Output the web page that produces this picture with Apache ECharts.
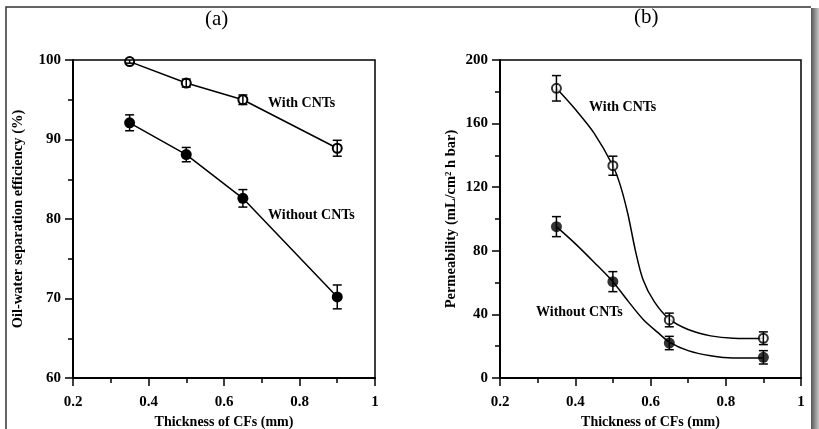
<!DOCTYPE html>
<html>
<head>
<meta charset="utf-8">
<script src="https://cdn.jsdelivr.net/npm/echarts@6/dist/echarts.min.js"></script>
<style>
  html, body { margin: 0; padding: 0; background: #fff; }
  #main { width: 819px; height: 429px; }
</style>
</head>
<body>
<div id="main"></div>
<script>
// thickness of CFs (mm)
var thickness = [0.35, 0.5, 0.65, 0.9];

// (a) oil-water separation efficiency (%)
var effWith = [99.8, 97.1, 95.0, 88.9];
var effWithErr = [0.2, 0.5, 0.6, 1.0];
var effWithout = [92.1, 88.1, 82.6, 70.2];
var effWithoutErr = [1.0, 0.9, 1.1, 1.5];

// (b) permeability (mL/cm2 h bar)
var permWith = [182.2, 133.5, 36.5, 25.0];
var permWithErr = [8, 6, 4.3, 4];
var permWithout = [95.2, 60.6, 22.0, 13.0];
var permWithoutErr = [6.3, 6.3, 4.2, 4.2];

// fitted curves in (b)
var fitWithX = [0.35, 0.4, 0.45, 0.5, 0.52, 0.54, 0.56, 0.58, 0.61, 0.65, 0.7, 0.76, 0.82, 0.9];
var fitWithY = [182.2, 169, 154, 133.5, 121, 103, 80, 62, 48, 37, 30.5, 26.5, 25, 24.8];
var fitWithoutX = [0.35, 0.4, 0.45, 0.5, 0.54, 0.58, 0.62, 0.65, 0.7, 0.76, 0.82, 0.9];
var fitWithoutY = [95.2, 84.5, 72.8, 60.6, 48.5, 37, 28.5, 22.6, 17.2, 14, 12.6, 12.6];

var xTicks = [0.2, 0.4, 0.6, 0.8, 1];

var serif = 'Liberation Serif';

function pairs(xs, ys) {
    var out = [];
    for (var i = 0; i < xs.length; i++) out.push([xs[i], ys[i]]);
    return out;
}

function errData(xs, ys, es) {
    var out = [];
    for (var i = 0; i < xs.length; i++) out.push([xs[i], ys[i] - es[i], ys[i] + es[i]]);
    return out;
}

function errorBars(idx, data) {
    return {
        type: 'custom',
        xAxisIndex: idx,
        yAxisIndex: idx,
        z: 5,
        data: data,
        renderItem: function (params, api) {
            var lo = api.coord([api.value(0), api.value(1)]);
            var hi = api.coord([api.value(0), api.value(2)]);
            var w = 4.5;
            var st = { stroke: '#000', lineWidth: 1.5 };
            return {
                type: 'group',
                children: [
                    { type: 'line', shape: { x1: lo[0], y1: lo[1], x2: hi[0], y2: hi[1] }, style: st },
                    { type: 'line', shape: { x1: lo[0] - w, y1: lo[1], x2: lo[0] + w, y2: lo[1] }, style: st },
                    { type: 'line', shape: { x1: hi[0] - w, y1: hi[1], x2: hi[0] + w, y2: hi[1] }, style: st }
                ]
            };
        }
    };
}

function xAxis(idx) {
    return {
        type: 'value',
        gridIndex: idx,
        min: 0.2,
        max: 1,
        interval: 0.2,
        name: 'Thickness of CFs (mm)',
        nameLocation: 'middle',
        nameGap: 33,
        nameTextStyle: { fontFamily: serif, fontWeight: 'bold', fontSize: 14, color: '#000' },
        axisLine: { lineStyle: { color: '#000', width: 2 } },
        axisTick: { inside: false, length: 8, lineStyle: { color: '#000', width: 1.5 } },
        minorTick: { show: true, splitNumber: 2, length: 5, lineStyle: { color: '#000', width: 1.5 } },
        axisLabel: {
            margin: 17, fontFamily: serif, fontWeight: 'bold', fontSize: 15, color: '#000',
            formatter: function (v) {
                for (var i = 0; i < xTicks.length; i++) {
                    if (Math.abs(xTicks[i] - v) < 1e-6) return String(xTicks[i]);
                }
                return '';
            }
        },
        splitLine: { show: false }
    };
}

function yAxis(idx, min, max, step, name, gap) {
    return {
        type: 'value',
        gridIndex: idx,
        min: min,
        max: max,
        interval: step,
        name: name,
        nameLocation: 'middle',
        nameGap: gap,
        nameTextStyle: { fontFamily: serif, fontWeight: 'bold', fontSize: 14.5, color: '#000' },
        axisLine: { show: true, lineStyle: { color: '#000', width: 2 } },
        axisTick: { show: true, inside: false, length: 8, lineStyle: { color: '#000', width: 1.5 } },
        minorTick: { show: true, splitNumber: 2, length: 5, lineStyle: { color: '#000', width: 1.5 } },
        axisLabel: { margin: 12, fontFamily: serif, fontWeight: 'bold', fontSize: 15, color: '#000' },
        splitLine: { show: false }
    };
}

function label(x, y, text) {
    return {
        type: 'text', left: x, top: y,
        style: { text: text, fontFamily: serif, fontWeight: 'bold', fontSize: 14, fill: '#000' }
    };
}

var myChart = echarts.init(document.getElementById('main'));

var option = {
    animation: false,
    backgroundColor: '#fff',
    grid: [
        { left: 73, top: 60, width: 302, height: 318, show: true, borderColor: '#000', borderWidth: 1.5, containLabel: false, outerBoundsMode: 'none' },
        { left: 500, top: 60, width: 301, height: 318, show: true, borderColor: '#000', borderWidth: 1.5, containLabel: false, outerBoundsMode: 'none' }
    ],
    xAxis: [xAxis(0), xAxis(1)],
    yAxis: [
        yAxis(0, 60, 100, 10, 'Oil-water separation efficiency (%)', 47),
        yAxis(1, 0, 200, 40, 'Permeability (mL/cm² h bar)', 41)
    ],
    graphic: [
        // outer frame
        { type: 'polyline', shape: { points: [[6, 429], [6, 7], [811, 7]] }, style: { stroke: '#333', lineWidth: 1.5, fill: null } },
        {
            type: 'rect', shape: { x: 811, y: 8, width: 8, height: 421 },
            style: {
                fill: new echarts.graphic.LinearGradient(0, 0, 1, 0, [
                    { offset: 0, color: '#555' }, { offset: 1, color: '#c8c8c8' }
                ])
            }
        },
        {
            type: 'text', left: 205, top: 9,
            style: { text: '(a)', fontFamily: serif, fontSize: 21, fill: '#000' }
        },
        {
            type: 'text', left: 634, top: 7,
            style: { text: '(b)', fontFamily: serif, fontSize: 21, fill: '#000' }
        },
        label(268, 96, 'With CNTs'),
        label(268, 208, 'Without CNTs'),
        label(589, 100, 'With CNTs'),
        label(536, 305, 'Without CNTs')
    ],
    series: [
        // (a)
        {
            type: 'line', xAxisIndex: 0, yAxisIndex: 0,
            data: pairs(thickness, effWith),
            symbol: 'emptyCircle', symbolSize: 9,
            lineStyle: { color: '#000', width: 1.5 },
            itemStyle: { color: '#000', borderColor: '#000', borderWidth: 1.5 }
        },
        {
            type: 'line', xAxisIndex: 0, yAxisIndex: 0,
            data: pairs(thickness, effWithout),
            symbol: 'circle', symbolSize: 11,
            lineStyle: { color: '#000', width: 1.5 },
            itemStyle: { color: '#000' }
        },
        errorBars(0, errData(thickness, effWith, effWithErr)),
        errorBars(0, errData(thickness, effWithout, effWithoutErr)),
        // (b) fitted curves
        {
            type: 'line', xAxisIndex: 1, yAxisIndex: 1,
            data: pairs(fitWithX, fitWithY),
            smooth: 0.3, showSymbol: false, symbol: 'none',
            lineStyle: { color: '#000', width: 1.5 }
        },
        {
            type: 'line', xAxisIndex: 1, yAxisIndex: 1,
            data: pairs(fitWithoutX, fitWithoutY),
            smooth: 0.3, showSymbol: false, symbol: 'none',
            lineStyle: { color: '#000', width: 1.5 }
        },
        {
            type: 'scatter', xAxisIndex: 1, yAxisIndex: 1,
            data: pairs(thickness, permWith),
            symbol: 'emptyCircle', symbolSize: 9, z: 4,
            itemStyle: { color: '#000', borderColor: '#000', borderWidth: 1.5 }
        },
        {
            type: 'scatter', xAxisIndex: 1, yAxisIndex: 1,
            data: pairs(thickness, permWithout),
            symbol: 'circle', symbolSize: 11, z: 4,
            itemStyle: { color: '#000' }
        },
        errorBars(1, errData(thickness, permWith, permWithErr)),
        errorBars(1, errData(thickness, permWithout, permWithoutErr))
    ]
};

myChart.setOption(option);
</script>
</body>
</html>
